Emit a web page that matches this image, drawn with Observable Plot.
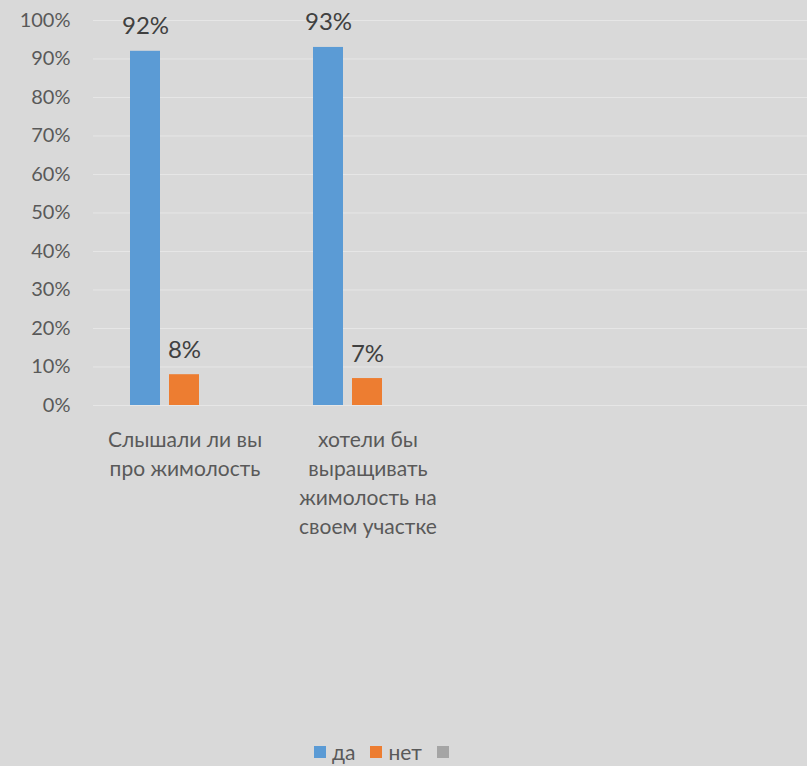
<!DOCTYPE html>
<html><head><meta charset="utf-8">
<script src="https://cdn.jsdelivr.net/npm/d3@7"></script>
<script src="https://cdn.jsdelivr.net/npm/@observablehq/plot@0.6"></script>
<style>
html,body{margin:0;padding:0;background:#d9d9d9;width:807px;height:766px;overflow:hidden;font-family:Lato,"Liberation Sans",sans-serif;}
#chart{position:absolute;left:0;top:0;}
#legend{position:absolute;left:314px;top:739px;}
#legend div{font-family:Lato,"Liberation Sans",sans-serif !important;font-size:21px !important;color:#595959 !important;margin:0 !important;min-height:0 !important;}
#legend span{margin-right:15px !important;}
#legend svg{margin-right:6px !important;}
</style></head><body><div id="chart"></div><div id="legend"></div>
<script>
const categories = ["Слышали ли вы про жимолость", "хотели бы выращивать жимолость на своем участке"];
const tickLabels = ["Слышали ли вы\nпро жимолость", "хотели бы\nвыращивать\nжимолость на\nсвоем участке"];
const seriesNames = ["да", "нет", " "];
const seriesColors = ["#5b9bd5", "#ed7d31", "#a5a5a5"];
const valuesDa = [92, 93];
const valuesNet = [8, 7];
const valuesEmpty = [null, null];
const yTicks = [0, 10, 20, 30, 40, 50, 60, 70, 80, 90, 100];

const seriesValues = [valuesDa, valuesNet, valuesEmpty];
const data = [];
seriesNames.forEach((s, i) => categories.forEach((c, j) => {
  if (seriesValues[i][j] != null) data.push({category: c, series: s, value: seriesValues[i][j]});
}));

// bar slots within each 183px band: [insetLeft, insetRight]
const slots = [[37, 116], [76, 77], [115, 38]];

const marks = [
  Plot.ruleY(yTicks, {stroke: "#e6e6e6", strokeWidth: 1})
];
seriesNames.forEach((s, i) => {
  const d = data.filter(r => r.series === s);
  marks.push(Plot.barY(d, {x: "category", y: "value", fill: "series", insetLeft: slots[i][0], insetRight: slots[i][1]}));
  marks.push(Plot.text(d, {x: "category", y: "value", text: r => r.value + "%", dx: (slots[i][0] - slots[i][1]) / 2, dy: -17, lineAnchor: "bottom", fontSize: 24, fill: "#404040"}));
});
marks.push(Plot.axisY({ticks: yTicks, tickSize: 0, tickPadding: 23, tickFormat: d => d + "%", fontSize: 20, fill: "#595959", label: null}));
marks.push(Plot.axisX({tickSize: 0, tickPadding: 21, tickFormat: c => tickLabels[categories.indexOf(c)], fontSize: 21, lineHeight: 1.38, fill: "#595959", label: null}));

const chart = Plot.plot({
  width: 807,
  height: 730,
  marginLeft: 93,
  marginRight: 0,
  marginTop: 20,
  marginBottom: 325,
  style: {background: "#d9d9d9", fontFamily: "Lato, 'Liberation Sans', sans-serif", overflow: "hidden"},
  x: {domain: categories, range: [93, 459], padding: 0, axis: null},
  y: {domain: [0, 100], axis: null},
  color: {domain: seriesNames, range: seriesColors},
  marks
});
document.getElementById("chart").appendChild(chart);

const legend = Plot.legend({color: {domain: seriesNames, range: seriesColors}, swatchSize: 12});
document.getElementById("legend").appendChild(legend);
</script>
</body></html>
